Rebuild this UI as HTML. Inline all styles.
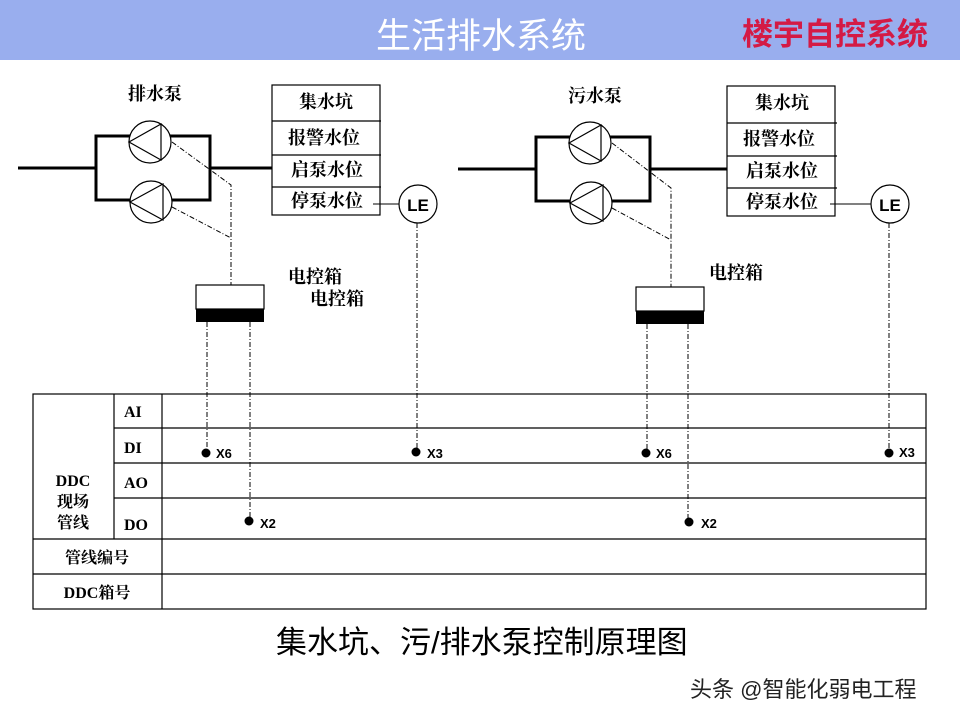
<!DOCTYPE html>
<html><head><meta charset="utf-8"><style>
html,body{margin:0;padding:0;background:#fff;}
svg{display:block;}
.s{font-family:"Liberation Serif","Noto Serif CJK SC",serif;}
.a{font-family:"Liberation Sans","Noto Sans CJK SC",sans-serif;}
</style></head><body>
<svg width="960" height="720" viewBox="0 0 960 720" xmlns="http://www.w3.org/2000/svg">
<rect x="0" y="0" width="960" height="60" fill="#99AEEE"/>
<text x="481" y="48" text-anchor="middle" class="a" font-size="35" fill="#fff">生活排水系统</text>
<text x="835" y="45" text-anchor="middle" class="a" font-size="31" font-weight="bold" fill="#D41A45">楼宇自控系统</text>

<g stroke="#000" fill="none">
<line x1="18" y1="168" x2="96" y2="168" stroke-width="3"/>
<rect x="96" y="136" width="114" height="64" stroke-width="3"/>
<line x1="210" y1="168" x2="272" y2="168" stroke-width="3"/>
<circle cx="150" cy="142" r="21" fill="#fff" stroke-width="1.2"/>
<path d="M129 142 L161 124 L161 160 Z" stroke-width="1.2"/>
<circle cx="151" cy="202" r="21" fill="#fff" stroke-width="1.2"/>
<path d="M130 202 L163 184 L163 220 Z" stroke-width="1.2"/>
<path d="M172 142 L231 185 L231 285 M172 207 L231 238" stroke-width="1" stroke-dasharray="5,2,1,2"/>
<rect x="272" y="85" width="108" height="130" fill="#fff" stroke-width="1.2"/>
<line x1="272" y1="121" x2="381" y2="121" stroke-width="1.2"/>
<line x1="272" y1="155" x2="381" y2="155" stroke-width="1.2"/>
<line x1="272" y1="187" x2="381" y2="187" stroke-width="1.2"/>
<line x1="373" y1="204" x2="399" y2="204" stroke-width="1"/>
<circle cx="418" cy="204" r="19" fill="#fff" stroke-width="1.2"/>
<rect x="196" y="285" width="68" height="24" fill="#fff" stroke-width="1.2"/>
<rect x="196" y="309" width="68" height="13" fill="#000" stroke="none"/>
<path d="M207 322 L207 452 M250 322 L250 521 M417 223 L417 452" stroke-width="1" stroke-dasharray="5,2,1,2"/>
</g>

<g stroke="#000" fill="none">
<line x1="458" y1="169" x2="536" y2="169" stroke-width="3"/>
<rect x="536" y="137" width="114" height="64" stroke-width="3"/>
<line x1="650" y1="169" x2="728" y2="169" stroke-width="3"/>
<circle cx="590" cy="143" r="21" fill="#fff" stroke-width="1.2"/>
<path d="M569 143 L601 125 L601 161 Z" stroke-width="1.2"/>
<circle cx="591" cy="203" r="21" fill="#fff" stroke-width="1.2"/>
<path d="M570 203 L603 185 L603 221 Z" stroke-width="1.2"/>
<path d="M612 143 L671 188 L671 287 M612 208 L671 240" stroke-width="1" stroke-dasharray="5,2,1,2"/>
<rect x="727" y="86" width="108" height="130" fill="#fff" stroke-width="1.2"/>
<line x1="727" y1="123" x2="837" y2="123" stroke-width="1.2"/>
<line x1="727" y1="156" x2="837" y2="156" stroke-width="1.2"/>
<line x1="727" y1="188" x2="837" y2="188" stroke-width="1.2"/>
<line x1="830" y1="204" x2="871" y2="204" stroke-width="1"/>
<circle cx="890" cy="204" r="19" fill="#fff" stroke-width="1.2"/>
<rect x="636" y="287" width="68" height="24" fill="#fff" stroke-width="1.2"/>
<rect x="636" y="311" width="68" height="13" fill="#000" stroke="none"/>
<path d="M647 324 L647 452 M688 324 L688 521 M889 223 L889 452" stroke-width="1" stroke-dasharray="5,2,1,2"/>
</g>

<g class="s" font-size="18" font-weight="bold" fill="#000">
<text x="155" y="100" text-anchor="middle">排水泵</text>
<text x="326" y="108" text-anchor="middle">集水坑</text>
<text x="324" y="144" text-anchor="middle">报警水位</text>
<text x="327" y="176" text-anchor="middle">启泵水位</text>
<text x="327" y="207" text-anchor="middle">停泵水位</text>
<text x="288" y="283">电控箱</text>
<text x="310" y="305">电控箱</text>
<text x="595" y="102" text-anchor="middle">污水泵</text>
<text x="782" y="109" text-anchor="middle">集水坑</text>
<text x="779" y="145" text-anchor="middle">报警水位</text>
<text x="782" y="177" text-anchor="middle">启泵水位</text>
<text x="782" y="208" text-anchor="middle">停泵水位</text>
<text x="709" y="279">电控箱</text>
</g>
<text x="418" y="211" text-anchor="middle" class="a" font-size="17" font-weight="bold">LE</text>
<text x="890" y="211" text-anchor="middle" class="a" font-size="17" font-weight="bold">LE</text>

<g stroke="#000" stroke-width="1.2" fill="none">
<rect x="33" y="394" width="893" height="215"/>
<line x1="114" y1="428" x2="926" y2="428"/>
<line x1="114" y1="463" x2="926" y2="463"/>
<line x1="114" y1="498" x2="926" y2="498"/>
<line x1="33" y1="539" x2="926" y2="539"/>
<line x1="33" y1="574" x2="926" y2="574"/>
<line x1="114" y1="394" x2="114" y2="539"/>
<line x1="162" y1="394" x2="162" y2="609"/>
</g>
<g class="s" font-size="16" font-weight="bold" fill="#000">
<text x="124" y="417">AI</text>
<text x="124" y="453">DI</text>
<text x="124" y="488">AO</text>
<text x="124" y="530">DO</text>
<text x="73" y="486" text-anchor="middle">DDC</text>
<text x="73" y="507" text-anchor="middle">现场</text>
<text x="73" y="528" text-anchor="middle">管线</text>
<text x="97" y="563" text-anchor="middle">管线编号</text>
<text x="97" y="598" text-anchor="middle">DDC箱号</text>
</g>
<g fill="#000">
<circle cx="206" cy="453" r="4.5"/><circle cx="416" cy="452" r="4.5"/><circle cx="249" cy="521" r="4.5"/>
<circle cx="646" cy="453" r="4.5"/><circle cx="889" cy="453" r="4.5"/><circle cx="689" cy="522" r="4.5"/>
</g>
<g class="a" font-size="13" font-weight="bold">
<text x="216" y="458">X6</text><text x="427" y="458">X3</text><text x="260" y="528">X2</text>
<text x="656" y="458">X6</text><text x="899" y="457">X3</text><text x="701" y="528">X2</text>
</g>
<text x="276" y="653" class="a" font-size="31" fill="#000">集水坑、污/排水泵控制原理图</text>
<text x="690" y="697" class="a" font-size="22" fill="#222">头条 @智能化弱电工程</text>
</svg>
</body></html>
